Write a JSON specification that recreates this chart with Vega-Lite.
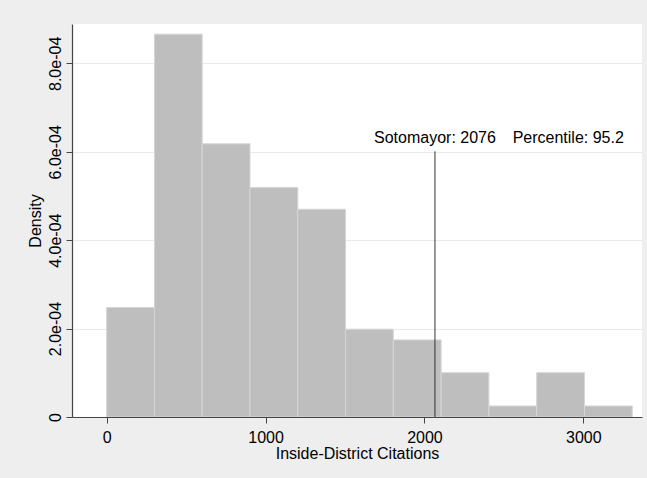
{
  "$schema": "https://vega.github.io/schema/vega-lite/v6.json",
  "width": 570,
  "height": 393,
  "autosize": {"type": "none"},
  "padding": {"left": 72, "top": 24, "right": 5, "bottom": 61},
  "background": "#EEEEEE",
  "config": {
    "view": {"fill": "#FFFFFF", "stroke": null},
    "font": "Liberation Sans",
    "axis": {"domain": true, "domainColor": "#444444", "domainWidth": 1.2}
  },
  "layer": [
    {
      "data": {
        "values": [
          {"bin_start": 0, "bin_end": 300.7, "density": 0.0002476},
          {"bin_start": 300.7, "bin_end": 601.4, "density": 0.000866},
          {"bin_start": 601.4, "bin_end": 902.1, "density": 0.000618},
          {"bin_start": 902.1, "bin_end": 1202.8, "density": 0.000519},
          {"bin_start": 1202.8, "bin_end": 1503.5, "density": 0.00047},
          {"bin_start": 1503.5, "bin_end": 1804.2, "density": 0.0001986},
          {"bin_start": 1804.2, "bin_end": 2104.9, "density": 0.0001744},
          {"bin_start": 2104.9, "bin_end": 2405.6, "density": 0.0001003},
          {"bin_start": 2405.6, "bin_end": 2706.3, "density": 0.0000249},
          {"bin_start": 2706.3, "bin_end": 3007, "density": 0.0001003},
          {"bin_start": 3007, "bin_end": 3307.7, "density": 0.0000249}
        ]
      },
      "mark": {"type": "bar", "fill": "#BEBEBE", "stroke": "#D6D6D6", "strokeWidth": 1},
      "encoding": {
        "x": {
          "field": "bin_start",
          "type": "quantitative",
          "scale": {"domain": [-218, 3369], "nice": false, "zero": false},
          "axis": {
            "title": "Inside-District Citations",
            "values": [0, 1000, 2000, 3000],
            "format": "d",
            "grid": false,
            "zindex": 1,
            "tickColor": "#444444",
            "tickSize": 6,
            "labelPadding": 6,
            "labelFontSize": 16,
            "labelColor": "#000000",
            "labelFlush": false,
            "titleFontSize": 16,
            "titleFontWeight": "normal",
            "titleColor": "#000000",
            "titleBaseline": "alphabetic",
            "titleY": 41,
            "titleX": 285
          }
        },
        "x2": {"field": "bin_end"},
        "y": {
          "field": "density",
          "type": "quantitative",
          "scale": {"domain": [0, 0.000889], "nice": false},
          "axis": {
            "title": "Density",
            "values": [0, 0.0002, 0.0004, 0.0006, 0.0008],
            "labelExpr": "datum.value == 0 ? '0' : replace(format(datum.value, '.1e'), 'e-', 'e-0')",
            "grid": true,
            "gridColor": "#EAEAEA",
            "gridWidth": 1,
            "tickColor": "#444444",
            "tickSize": 6,
            "labelPadding": 6,
            "labelAngle": 270,
            "labelAlign": "center",
            "labelBaseline": "alphabetic",
            "labelFontSize": 16,
            "labelColor": "#000000",
            "labelFlush": false,
            "titleFontSize": 16,
            "titleFontWeight": "normal",
            "titleColor": "#000000",
            "titleAngle": 270,
            "titleAlign": "center",
            "titleBaseline": "alphabetic",
            "titleX": -32,
            "titleY": 196.5
          }
        },
        "y2": {"datum": 0}
      }
    },
    {
      "data": {"values": [{"x": 2066, "y0": 0, "y1": 0.000601}]},
      "mark": {"type": "rule", "color": "#333333", "strokeWidth": 1},
      "encoding": {
        "x": {"field": "x", "type": "quantitative"},
        "y": {"field": "y0", "type": "quantitative"},
        "y2": {"field": "y1"}
      }
    },
    {
      "data": {
        "values": [
          {"x": 2066, "y": 0.00062, "label": "Sotomayor: 2076"},
          {"x": 2905, "y": 0.00062, "label": "Percentile: 95.2"}
        ]
      },
      "mark": {"type": "text", "fontSize": 16, "color": "#000000", "align": "center", "baseline": "alphabetic"},
      "encoding": {
        "x": {"field": "x", "type": "quantitative"},
        "y": {"field": "y", "type": "quantitative"},
        "text": {"field": "label"}
      }
    }
  ]
}
